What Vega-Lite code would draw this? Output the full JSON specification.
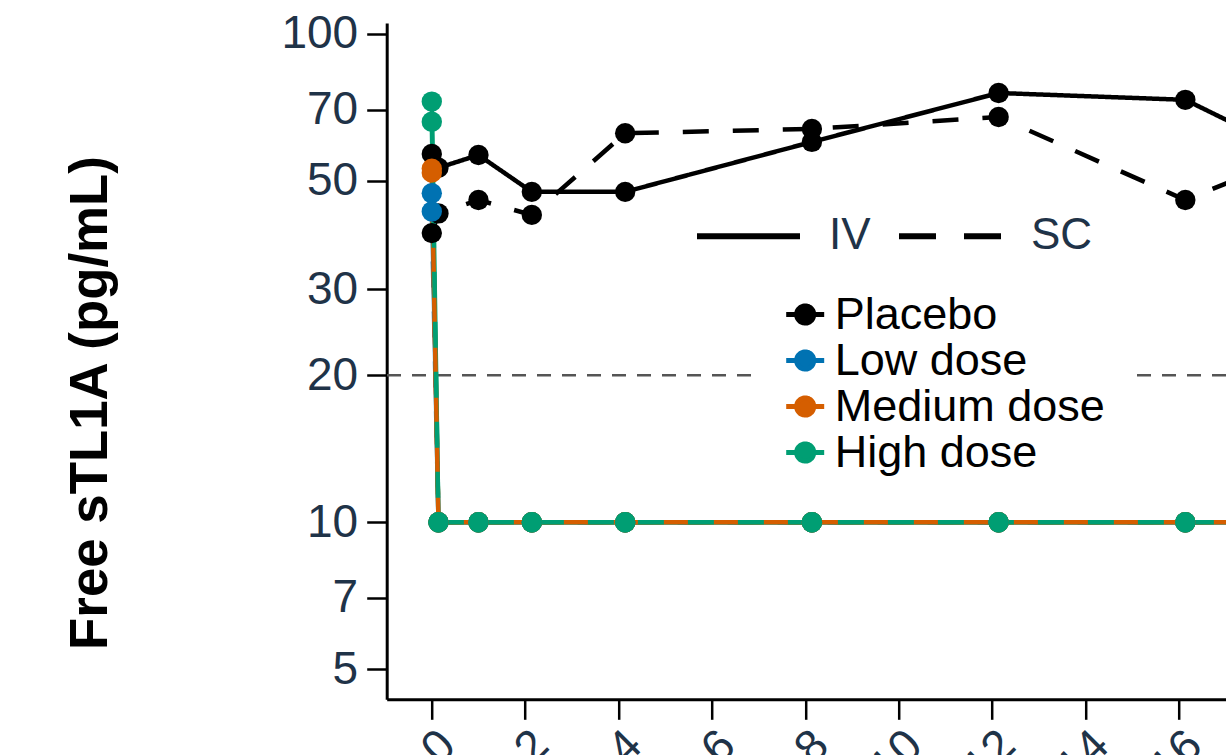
{
  "$schema": "https://vega.github.io/schema/vega-lite/v6.json",
  "width": 839.3,
  "height": 676.3,
  "autosize": {"type": "none"},
  "padding": {"left": 386.7, "top": 23, "right": 0, "bottom": 55.7},
  "background": "white",
  "config": {"view": {"stroke": null}, "font": "Liberation Sans"},
  "datasets": {
    "d": [
      {"group": "Placebo", "route": "IV", "week": 0, "value": 56.8},
      {"group": "Placebo", "route": "IV", "week": 0.143, "value": 53.2},
      {"group": "Placebo", "route": "IV", "week": 1, "value": 56.5},
      {"group": "Placebo", "route": "IV", "week": 2.143, "value": 47.5},
      {"group": "Placebo", "route": "IV", "week": 4.143, "value": 47.5},
      {"group": "Placebo", "route": "IV", "week": 8.143, "value": 60.1},
      {"group": "Placebo", "route": "IV", "week": 12.143, "value": 75.7},
      {"group": "Placebo", "route": "IV", "week": 16.143, "value": 73.3},
      {"group": "Placebo", "route": "IV", "week": 20.143, "value": 47.6},
      {"group": "Placebo", "route": "SC", "week": 0, "value": 39.1},
      {"group": "Placebo", "route": "SC", "week": 0.143, "value": 42.9},
      {"group": "Placebo", "route": "SC", "week": 1, "value": 45.7},
      {"group": "Placebo", "route": "SC", "week": 2.143, "value": 42.6},
      {"group": "Placebo", "route": "SC", "week": 4.143, "value": 62.6},
      {"group": "Placebo", "route": "SC", "week": 8.143, "value": 63.9},
      {"group": "Placebo", "route": "SC", "week": 12.143, "value": 67.6},
      {"group": "Placebo", "route": "SC", "week": 16.143, "value": 45.7},
      {"group": "Placebo", "route": "SC", "week": 20.143, "value": 65.4},
      {"group": "Low dose", "route": "IV", "week": 0, "value": 47.2},
      {"group": "Low dose", "route": "IV", "week": 0.143, "value": 10},
      {"group": "Low dose", "route": "IV", "week": 1, "value": 10},
      {"group": "Low dose", "route": "IV", "week": 2.143, "value": 10},
      {"group": "Low dose", "route": "IV", "week": 4.143, "value": 10},
      {"group": "Low dose", "route": "IV", "week": 8.143, "value": 10},
      {"group": "Low dose", "route": "IV", "week": 12.143, "value": 10},
      {"group": "Low dose", "route": "IV", "week": 16.143, "value": 10},
      {"group": "Low dose", "route": "IV", "week": 20.143, "value": 10},
      {"group": "Low dose", "route": "SC", "week": 0, "value": 43.3},
      {"group": "Low dose", "route": "SC", "week": 0.143, "value": 10},
      {"group": "Low dose", "route": "SC", "week": 1, "value": 10},
      {"group": "Low dose", "route": "SC", "week": 2.143, "value": 10},
      {"group": "Low dose", "route": "SC", "week": 4.143, "value": 10},
      {"group": "Low dose", "route": "SC", "week": 8.143, "value": 10},
      {"group": "Low dose", "route": "SC", "week": 12.143, "value": 10},
      {"group": "Low dose", "route": "SC", "week": 16.143, "value": 10},
      {"group": "Low dose", "route": "SC", "week": 20.143, "value": 10},
      {"group": "Medium dose", "route": "IV", "week": 0, "value": 52.0},
      {"group": "Medium dose", "route": "IV", "week": 0.143, "value": 10},
      {"group": "Medium dose", "route": "IV", "week": 1, "value": 10},
      {"group": "Medium dose", "route": "IV", "week": 2.143, "value": 10},
      {"group": "Medium dose", "route": "IV", "week": 4.143, "value": 10},
      {"group": "Medium dose", "route": "IV", "week": 8.143, "value": 10},
      {"group": "Medium dose", "route": "IV", "week": 12.143, "value": 10},
      {"group": "Medium dose", "route": "IV", "week": 16.143, "value": 10},
      {"group": "Medium dose", "route": "IV", "week": 20.143, "value": 10},
      {"group": "Medium dose", "route": "SC", "week": 0, "value": 53.0},
      {"group": "Medium dose", "route": "SC", "week": 0.143, "value": 10},
      {"group": "Medium dose", "route": "SC", "week": 1, "value": 10},
      {"group": "Medium dose", "route": "SC", "week": 2.143, "value": 10},
      {"group": "Medium dose", "route": "SC", "week": 4.143, "value": 10},
      {"group": "Medium dose", "route": "SC", "week": 8.143, "value": 10},
      {"group": "Medium dose", "route": "SC", "week": 12.143, "value": 10},
      {"group": "Medium dose", "route": "SC", "week": 16.143, "value": 10},
      {"group": "Medium dose", "route": "SC", "week": 20.143, "value": 10},
      {"group": "High dose", "route": "IV", "week": 0, "value": 72.7},
      {"group": "High dose", "route": "IV", "week": 0.143, "value": 10},
      {"group": "High dose", "route": "IV", "week": 1, "value": 10},
      {"group": "High dose", "route": "IV", "week": 2.143, "value": 10},
      {"group": "High dose", "route": "IV", "week": 4.143, "value": 10},
      {"group": "High dose", "route": "IV", "week": 8.143, "value": 10},
      {"group": "High dose", "route": "IV", "week": 12.143, "value": 10},
      {"group": "High dose", "route": "IV", "week": 16.143, "value": 10},
      {"group": "High dose", "route": "IV", "week": 20.143, "value": 10},
      {"group": "High dose", "route": "SC", "week": 0, "value": 66.1},
      {"group": "High dose", "route": "SC", "week": 0.143, "value": 10},
      {"group": "High dose", "route": "SC", "week": 1, "value": 10},
      {"group": "High dose", "route": "SC", "week": 2.143, "value": 10},
      {"group": "High dose", "route": "SC", "week": 4.143, "value": 10},
      {"group": "High dose", "route": "SC", "week": 8.143, "value": 10},
      {"group": "High dose", "route": "SC", "week": 12.143, "value": 10},
      {"group": "High dose", "route": "SC", "week": 16.143, "value": 10},
      {"group": "High dose", "route": "SC", "week": 20.143, "value": 10}
    ]
  },
  "layer": [
    {
      "data": {"values": [{}]},
      "mark": {"type": "rule", "strokeDash": [14, 11], "color": "#555555", "strokeWidth": 2.5, "clip": true},
      "encoding": {
        "y": {"datum": 20, "type": "quantitative",
          "scale": {"type": "log", "domain": [4.34, 105.3], "nice": false, "zero": false},
          "axis": {"values": [5, 7, 10, 20, 30, 50, 70, 100], "grid": false, "domainColor": "black", "domainWidth": 3, "tickColor": "black", "tickWidth": 2.5, "tickSize": 20, "labelFontSize": 46, "labelColor": "#1f3348", "labelPadding": 9, "labelFlush": false, "labelOverlap": false, "title": "Free sTL1A (pg/mL)", "titleFontSize": 52.8, "titleFontWeight": "bold", "titleColor": "black", "titleAngle": -90, "titleX": -296.7, "titleY": 379.5, "titleAlign": "center", "titleBaseline": "middle"}}
      }
    },
    {
      "data": {"name": "d"},
      "transform": [{"filter": "!(datum.group === 'High dose' && datum.route === 'SC') && !(datum.group === 'Medium dose' && datum.route === 'IV')"}],
      "mark": {"type": "line", "strokeWidth": 4.5, "clip": true, "strokeCap": "butt"},
      "encoding": {
        "x": {"field": "week", "type": "quantitative",
          "scale": {"domain": [-0.966, 17.014], "nice": false, "zero": false},
          "axis": {"values": [0, 2, 4, 6, 8, 10, 12, 14, 16], "grid": false, "domainColor": "black", "domainWidth": 3, "tickColor": "black", "tickWidth": 2.5, "tickSize": 20, "labelFontSize": 46, "labelColor": "#1f3348", "labelAngle": -45, "labelAlign": "right", "labelBaseline": "top", "labelPadding": 3, "labelFlush": false, "labelOverlap": false, "title": "Weeks"}},
        "y": {"field": "value", "type": "quantitative",
          "scale": {"type": "log", "domain": [4.34, 105.3], "nice": false, "zero": false},
          "axis": {"values": [5, 7, 10, 20, 30, 50, 70, 100], "grid": false, "domainColor": "black", "domainWidth": 3, "tickColor": "black", "tickWidth": 2.5, "tickSize": 20, "labelFontSize": 46, "labelColor": "#1f3348", "labelPadding": 9, "labelFlush": false, "labelOverlap": false, "title": "Free sTL1A (pg/mL)", "titleFontSize": 52.8, "titleFontWeight": "bold", "titleColor": "black", "titleAngle": -90, "titleX": -296.7, "titleY": 379.5, "titleAlign": "center", "titleBaseline": "middle"}},
        "color": {"field": "group", "type": "nominal",
          "scale": {"domain": ["Placebo", "Low dose", "Medium dose", "High dose"], "range": ["#000000", "#0072B2", "#D55E00", "#009E73"]},
          "legend": {"title": null, "orient": "none", "direction": "vertical", "legendX": 366, "legendY": 239, "padding": 30, "fillColor": "white", "strokeColor": null, "symbolType": "M-1,0L1,0M0.45,0A0.45,0.45,0,1,1,-0.45,0A0.45,0.45,0,1,1,0.45,0Z", "symbolSize": 1444, "symbolStrokeWidth": 5, "symbolDash": [1, 0], "labelFontSize": 45, "labelColor": "black", "labelOffset": 7, "labelLimit": 0, "rowPadding": 0,
            "encode": {"symbols": {"update": {"fill": {"scale": "color", "field": "value"}, "stroke": {"scale": "color", "field": "value"}, "strokeWidth": {"value": 5}, "strokeDash": {"value": [1, 0]}, "opacity": {"value": 1}}}}}},
        "detail": {"field": "route", "type": "nominal"},
        "strokeDash": {"condition": {"test": "datum.route === 'SC'", "value": [26, 24]}, "value": [1, 0]}
      }
    },
    {
      "data": {"name": "d"},
      "transform": [{"filter": "datum.group === 'Medium dose' && datum.route === 'IV'"}],
      "mark": {"type": "line", "strokeWidth": 4.5, "clip": true, "strokeCap": "butt"},
      "encoding": {
        "x": {"field": "week", "type": "quantitative", "scale": {"domain": [-0.966, 17.014], "nice": false, "zero": false}},
        "y": {"field": "value", "type": "quantitative", "scale": {"type": "log", "domain": [4.34, 105.3], "nice": false, "zero": false}},
        "color": {"field": "group", "type": "nominal", "legend": null},
        "detail": {"field": "route", "type": "nominal"},
        "strokeDash": {"condition": {"test": "datum.route === 'SC'", "value": [26, 24]}, "value": [1, 0]}
      }
    },
    {
      "data": {"name": "d"},
      "transform": [{"filter": "datum.group === 'High dose' && datum.route === 'SC'"}],
      "mark": {"type": "line", "strokeWidth": 4.5, "clip": true, "strokeCap": "butt"},
      "encoding": {
        "x": {"field": "week", "type": "quantitative", "scale": {"domain": [-0.966, 17.014], "nice": false, "zero": false}},
        "y": {"field": "value", "type": "quantitative", "scale": {"type": "log", "domain": [4.34, 105.3], "nice": false, "zero": false}},
        "color": {"field": "group", "type": "nominal", "legend": null},
        "detail": {"field": "route", "type": "nominal"},
        "strokeDash": {"condition": {"test": "datum.route === 'SC'", "value": [26, 24]}, "value": [1, 0]}
      }
    },
    {
      "data": {"name": "d"},
      "mark": {"type": "point", "filled": true, "shape": "circle", "size": 415, "opacity": 1, "clip": true},
      "encoding": {
        "x": {"field": "week", "type": "quantitative", "scale": {"domain": [-0.966, 17.014], "nice": false, "zero": false}},
        "y": {"field": "value", "type": "quantitative", "scale": {"type": "log", "domain": [4.34, 105.3], "nice": false, "zero": false}},
        "color": {"field": "group", "type": "nominal", "legend": null}
      }
    },
    {
      "data": {"name": "d"},
      "transform": [{"filter": "false"}],
      "mark": {"type": "line", "color": "black", "strokeWidth": 6, "clip": true},
      "encoding": {
        "x": {"field": "week", "type": "quantitative", "scale": {"domain": [-0.966, 17.014], "nice": false, "zero": false}},
        "y": {"field": "value", "type": "quantitative", "scale": {"type": "log", "domain": [4.34, 105.3], "nice": false, "zero": false}},
        "strokeDash": {"field": "route", "type": "nominal",
          "scale": {"domain": ["IV", "SC"], "range": [[1, 0], [37, 28]]},
          "legend": {"title": null, "orient": "none", "direction": "horizontal", "legendX": 307.3, "legendY": 158.5, "padding": 0, "symbolType": "stroke", "symbolSize": 10609, "symbolStrokeWidth": 6, "symbolStrokeColor": "black", "labelFontSize": 44, "labelColor": "#1f3348", "labelOffset": 26, "columnPadding": 16}}
      }
    }
  ]
}
